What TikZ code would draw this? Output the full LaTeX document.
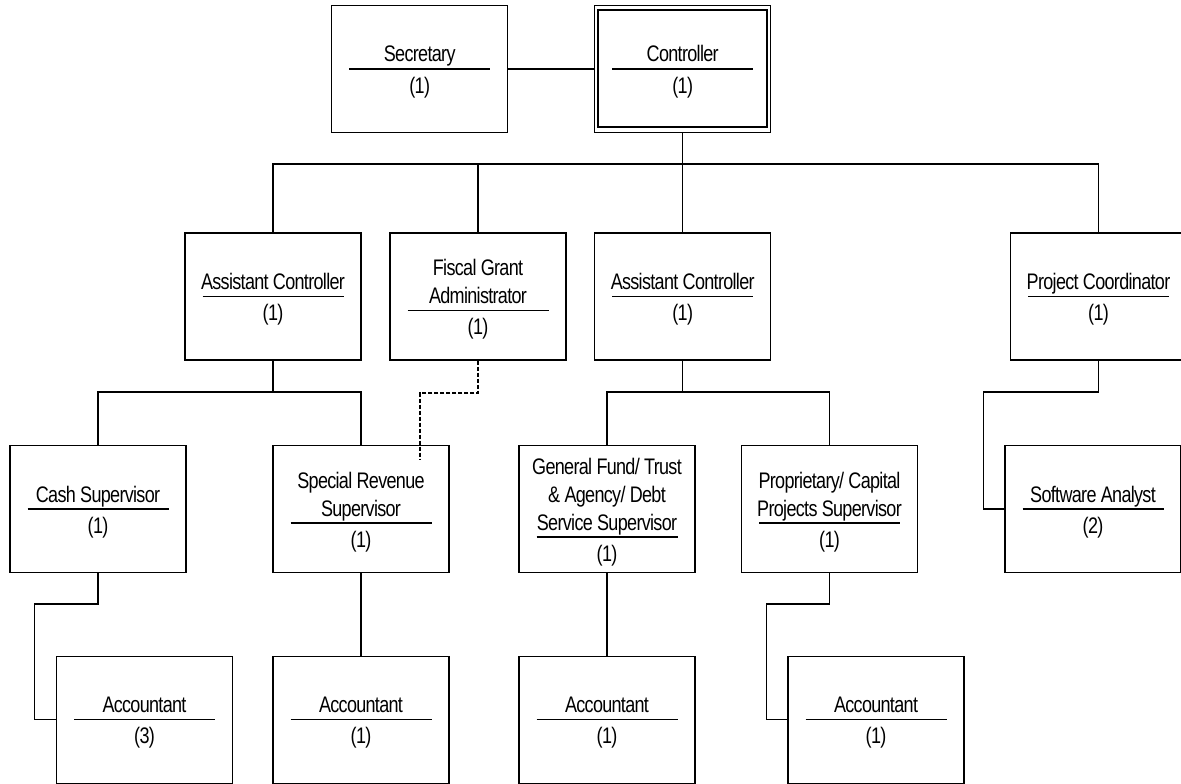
\documentclass[tikz,border=0pt]{standalone}
\usepackage{fontspec}
\newfontfamily\orgfont[FakeStretch=0.8, LetterSpace=-3]{Liberation Sans}

% One position of the chart: box, title lines, rule, head count.
% #1 name, #2 x, #3 y, #4 number of title lines, #5 title, #6 head count
\newcommand{\orgpost}[6]{%
  \node[post] (#1) at (#2,#3) {};
  \node[postlabel, anchor=base] (#1-title) at ({#2},{#3+(#4-1)*14-7})
    {\begin{tabular}[b]{@{}c@{}}#5\end{tabular}};
  \draw[postrule] ({#2-70.5},{#3+(#4-1)*14}) -- ++(141,0);
  \node[postlabel, anchor=base] (#1-count) at ({#2},{#3+(#4-1)*14+24}) {#6};
}

\begin{document}
\begin{tikzpicture}[x=1pt, y=-1pt,
  post/.style={draw, line width=1.2pt, minimum width=176pt, minimum height=127pt, inner sep=0pt},
  postlabel/.style={inner sep=0pt, font=\orgfont\fontsize{22.5}{28}\selectfont},
  postrule/.style={line width=1.3pt},
  link/.style={line width=1.2pt},
  dashlink/.style={line width=1.2pt, dash pattern=on 4pt off 2pt}
]
\fill[white] (0,0) rectangle (1181,784);
\useasboundingbox (0,0) rectangle (1181,784);

% top level
\orgpost{sec}{419.7}{69}{1}{Secretary}{(1)}
\orgpost{ctrl}{682.7}{69}{1}{Controller}{(1)}
\draw[line width=1.8pt] ([shift={(4,5)}]ctrl.north west) rectangle ([shift={(-4,-6)}]ctrl.south east);

% second level
\orgpost{acA}{273}{296.5}{1}{Assistant Controller}{(1)}
\orgpost{fga}{478}{296.5}{2}{Fiscal Grant\\Administrator}{(1)}
\orgpost{acB}{682.7}{296.5}{1}{Assistant Controller}{(1)}
\orgpost{pc}{1098.5}{296.5}{1}{Project Coordinator}{(1)}

% supervisors
\orgpost{cash}{98}{509}{1}{Cash Supervisor}{(1)}
\orgpost{sr}{361}{509}{2}{Special Revenue\\Supervisor}{(1)}
\orgpost{gf}{607}{509}{3}{General Fund/ Trust\\\& Agency/ Debt\\Service Supervisor}{(1)}
\orgpost{prop}{829.5}{509}{2}{Proprietary/ Capital\\Projects Supervisor}{(1)}
\orgpost{sa}{1093}{509}{1}{Software Analyst}{(2)}

% accountants
\orgpost{accA}{144.5}{719.7}{1}{Accountant}{(3)}
\orgpost{accB}{361}{719.7}{1}{Accountant}{(1)}
\orgpost{accC}{607}{719.7}{1}{Accountant}{(1)}
\orgpost{accD}{876}{719.7}{1}{Accountant}{(1)}

% reporting lines
\coordinate (busTop) at (682.7,164);
\draw[link] (sec) -- (ctrl);
\draw[link] (ctrl.south) -- (busTop);
\draw[link] (acA.north) |- (busTop) -| (pc.north);
\draw[link] (fga.north) -- (fga.north |- busTop);
\draw[link] (acB.north) -- (busTop);

\coordinate (busA) at (273,392);
\draw[link] (acA.south) -- (busA);
\draw[link] (cash.north) |- (busA) -| (sr.north);

\coordinate (busB) at (682.7,392);
\draw[link] (acB.south) -- (busB);
\draw[link] (gf.north) |- (busB) -| (prop.north);

\coordinate (pcTurn) at (983.3,392);
\draw[link] (pc.south) |- (pcTurn) |- (sa.west);

\coordinate (cashTurn) at (34.7,604);
\draw[link] (cash.south) |- (cashTurn) |- (accA.west);
\coordinate (propTurn) at (766.3,604);
\draw[link] (prop.south) |- (propTurn) |- (accD.west);
\draw[link] (sr.south) -- (accB.north);
\draw[link] (gf.south) -- (accC.north);

% grant administration (dashed)
\coordinate (fgaTurn) at (420,393);
\coordinate (fgaEnd) at (420,459);
\draw[dashlink] (fga.south) |- (fgaTurn) -- (fgaEnd);
\end{tikzpicture}
\end{document}
